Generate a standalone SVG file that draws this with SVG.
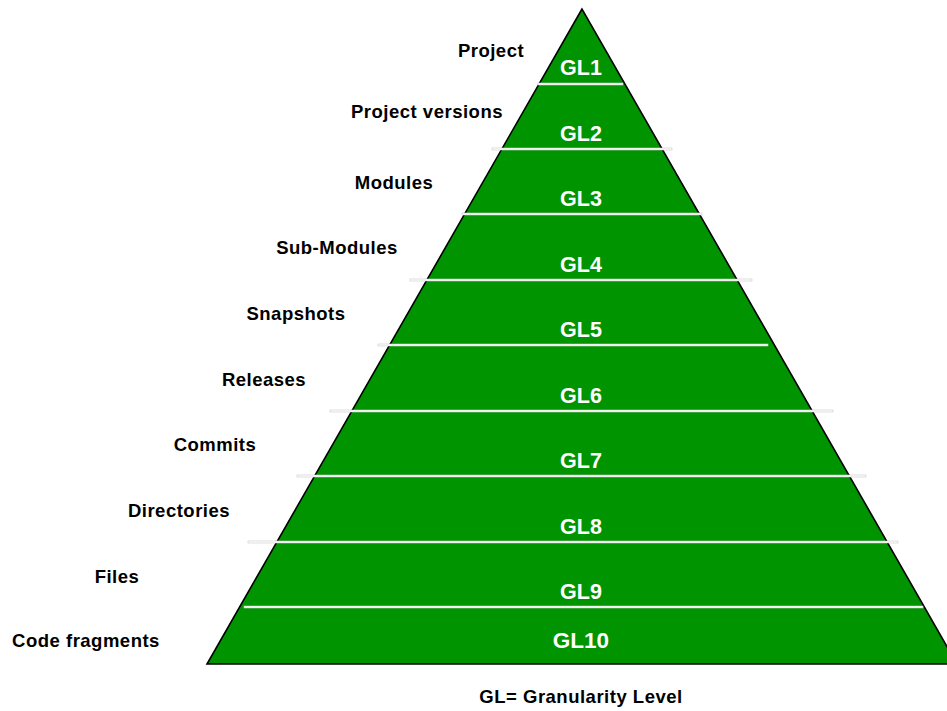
<svg xmlns="http://www.w3.org/2000/svg" width="947" height="711" viewBox="0 0 947 711">
<style>
.lbl{font-family:"Liberation Sans",Arial,sans-serif;font-weight:bold;font-size:18.5px;letter-spacing:0.5px;fill:#000;text-anchor:middle}
.gl{font-family:"Liberation Sans",Arial,sans-serif;font-weight:bold;font-size:21.5px;fill:#fff;text-anchor:middle}
.div{fill:#fff;stroke:#c8c8c8;stroke-width:0.6}
</style>
<rect width="947" height="711" fill="#fff"/>
<g id="pyramid">
<polygon points="582,9 207,664 957,664" fill="#009400" stroke="#000" stroke-width="1.6"/>
</g>
<g id="dividers">
<rect class="div" x="538" y="83" width="85" height="2"/>
<rect class="div" x="492" y="148" width="180" height="2"/>
<rect class="div" x="462" y="213" width="240" height="2"/>
<rect class="div" x="410" y="279" width="342" height="2"/>
<rect class="div" x="378" y="344" width="390" height="2"/>
<rect class="div" x="330" y="410" width="503" height="2"/>
<rect class="div" x="297" y="475" width="569" height="2"/>
<rect class="div" x="248" y="541" width="650" height="2"/>
<rect class="div" x="244" y="606" width="679" height="2"/>
</g>
<g id="levels">
<text class="gl" x="581" y="75">GL1</text>
<text class="gl" x="581" y="141">GL2</text>
<text class="gl" x="581" y="206">GL3</text>
<text class="gl" x="581" y="272">GL4</text>
<text class="gl" x="581" y="337">GL5</text>
<text class="gl" x="581" y="403">GL6</text>
<text class="gl" x="581" y="468">GL7</text>
<text class="gl" x="581" y="534">GL8</text>
<text class="gl" x="581" y="599">GL9</text>
<text class="gl" x="581" y="648" style="font-size:22.5px">GL10</text>
</g>
<g id="labels">
<text class="lbl" x="491" y="57">Project</text>
<text class="lbl" x="427" y="118">Project versions</text>
<text class="lbl" x="394" y="189">Modules</text>
<text class="lbl" x="337" y="254">Sub-Modules</text>
<text class="lbl" x="296" y="320">Snapshots</text>
<text class="lbl" x="264" y="386">Releases</text>
<text class="lbl" x="215" y="451">Commits</text>
<text class="lbl" x="179" y="517">Directories</text>
<text class="lbl" x="117" y="583">Files</text>
<text class="lbl" x="86" y="647">Code fragments</text>
<text class="lbl" x="581" y="703">GL= Granularity Level</text>
</g>
</svg>
